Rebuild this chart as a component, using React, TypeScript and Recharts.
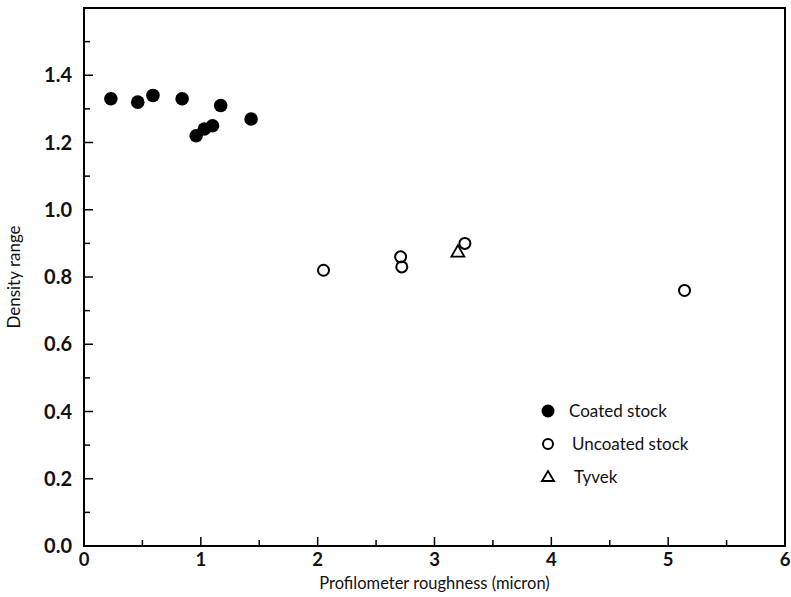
import React from "react";
import {
  ScatterChart,
  Scatter,
  XAxis,
  YAxis,
  ReferenceArea,
} from "recharts";

const coatedX = [0.23, 0.46, 0.59, 0.84, 1.17, 0.96, 1.03, 1.1, 1.43];
const coatedY = [1.33, 1.32, 1.34, 1.33, 1.31, 1.22, 1.24, 1.25, 1.27];
const uncoatedX = [2.05, 2.71, 2.72, 3.26, 5.14];
const uncoatedY = [0.82, 0.86, 0.83, 0.9, 0.76];
const tyvekX = [3.2];
const tyvekY = [0.875];

const xTicks = [0, 0.5, 1, 1.5, 2, 2.5, 3, 3.5, 4, 4.5, 5, 5.5, 6];
const yTicks = [0, 0.1, 0.2, 0.3, 0.4, 0.5, 0.6, 0.7, 0.8, 0.9, 1.0, 1.1, 1.2, 1.3, 1.4, 1.5, 1.6];
const yLabels = ["0.0", "", "0.2", "", "0.4", "", "0.6", "", "0.8", "", "1.0", "", "1.2", "", "1.4", "", ""];
const seriesNames = ["Coated stock", "Uncoated stock", "Tyvek"];

const coated = coatedX.map((x, i) => ({ x, y: coatedY[i] }));
const uncoated = uncoatedX.map((x, i) => ({ x, y: uncoatedY[i] }));
const tyvek = tyvekX.map((x, i) => ({ x, y: tyvekY[i] }));

const FONT = "Lato, 'Open Sans', sans-serif";
const PLOT_LEFT = 84;
const PLOT_BOTTOM = 546;

const XTick = (props: any) => {
  const { x, payload } = props;
  const v = payload.value;
  const major = Number.isInteger(v);
  return (
    <g>
      <line x1={x} x2={x} y1={PLOT_BOTTOM} y2={PLOT_BOTTOM - (major ? 9 : 6)} stroke="#000" strokeWidth={1.5} />
      {major && (
        <text x={x} y={566} textAnchor="middle" fontSize={18.5} fontWeight={700} fontFamily={FONT} fill="#111">
          {String(v)}
        </text>
      )}
    </g>
  );
};

const YTick = (props: any) => {
  const { y, payload } = props;
  const v = payload.value;
  const idx = yTicks.indexOf(v);
  const lab = idx >= 0 ? yLabels[idx] : "";
  const major = Math.round(v * 10) % 2 === 0;
  return (
    <g>
      <line x1={PLOT_LEFT} x2={PLOT_LEFT + (major ? 9 : 6)} y1={y} y2={y} stroke="#000" strokeWidth={1.5} />
      {lab && (
        <text x={72} y={y} dy="0.35em" textAnchor="end" fontSize={20} fontWeight={700} fontFamily={FONT} fill="#111">
          {lab}
        </text>
      )}
    </g>
  );
};

const FilledCircle = (p: any) => <circle cx={p.cx} cy={p.cy} r={6.8} fill="#000" />;
const OpenCircle = (p: any) => <circle cx={p.cx} cy={p.cy} r={5.5} fill="none" stroke="#000" strokeWidth={2} />;
const Triangle = (p: any) => {
  const s = 6.5;
  return (
    <path
      d={`M${p.cx},${p.cy - s} L${p.cx + s},${p.cy + s * 0.75} L${p.cx - s},${p.cy + s * 0.75} Z`}
      fill="none"
      stroke="#000"
      strokeWidth={1.8}
    />
  );
};

const LegendBox = () => (
  <div style={{ position: "absolute", left: 538, top: 394, width: 220, fontFamily: FONT, fontSize: 17, color: "#111" }}>
    {seriesNames.map((n, i) => (
      <div key={n} style={{ display: "flex", alignItems: "center", height: 33 }}>
        <svg width={20} height={20} style={{ marginRight: i === 0 ? 11 : i === 1 ? 14 : 16 }}>
          {i === 0 && <circle cx={10} cy={10} r={6.5} fill="#000" />}
          {i === 1 && <circle cx={10} cy={10} r={5} fill="none" stroke="#000" strokeWidth={2} />}
          {i === 2 && <path d="M10,4 L16,14 L4,14 Z" fill="none" stroke="#000" strokeWidth={1.8} />}
        </svg>
        <span>{n}</span>
      </div>
    ))}
  </div>
);

export default function App() {
  return (
    <div style={{ position: "absolute", left: 0, top: 0, width: 791, height: 597, background: "#fff" }}>
      <ScatterChart width={791} height={597} margin={{ top: 8, right: 6, bottom: 0, left: 0 }}>
        <XAxis
          type="number"
          dataKey="x"
          domain={[0, 6]}
          ticks={xTicks}
          interval={0}
          height={51}
          axisLine={false}
          tickLine={false}
          tick={<XTick />}
          label={{ value: "Profilometer roughness (micron)", position: "insideBottom", offset: 8, fontSize: 16.5, fontFamily: FONT, fill: "#111" }}
        />
        <YAxis
          type="number"
          dataKey="y"
          domain={[0, 1.6]}
          ticks={yTicks}
          interval={0}
          width={84}
          axisLine={false}
          tickLine={false}
          tick={<YTick />}
          label={{ value: "Density range", angle: -90, position: "insideLeft", offset: 14, fontSize: 17, fontFamily: FONT, fill: "#111", style: { textAnchor: "middle" } }}
        />
        <ReferenceArea x1={0} x2={6} y1={0} y2={1.6} fill="none" stroke="#000" strokeWidth={2} />
        <Scatter name={seriesNames[0]} data={coated} shape={<FilledCircle />} isAnimationActive={false} />
        <Scatter name={seriesNames[1]} data={uncoated} shape={<OpenCircle />} isAnimationActive={false} />
        <Scatter name={seriesNames[2]} data={tyvek} shape={<Triangle />} isAnimationActive={false} />
      </ScatterChart>
      <LegendBox />
    </div>
  );
}
